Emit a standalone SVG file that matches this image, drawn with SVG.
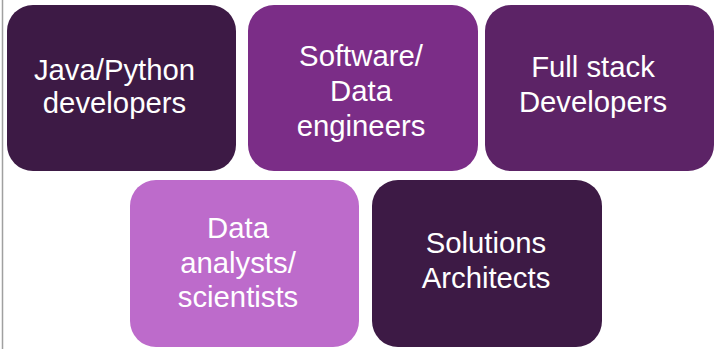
<svg xmlns="http://www.w3.org/2000/svg" width="714" height="349" viewBox="0 0 714 349">
<style>
.b{stroke:none}
.t{font-family:"Liberation Sans",Arial,sans-serif;font-size:29.3px;fill:#ffffff;text-anchor:middle}
</style>
<rect width="714" height="349" fill="#ffffff"/>
<line x1="2.5" y1="0" x2="2.5" y2="349" stroke="#a0a0a0" stroke-width="1.5"/>
<g id="connectors"></g>
<g id="n1"><rect class="b" x="7" y="5" width="229" height="166" rx="26" fill="#3d1a45"/>
<text class="t" x="114.5" y="80">Java/Python</text><text class="t" x="114.5" y="113">developers</text></g>
<g id="n2"><rect class="b" x="248" y="5" width="230" height="166" rx="26" fill="#7b2d87"/>
<text class="t" x="361" y="66">Software/</text><text class="t" x="361" y="101">Data</text><text class="t" x="361" y="136">engineers</text></g>
<g id="n3"><rect class="b" x="485" y="5" width="229" height="166" rx="26" fill="#5c2366"/>
<text class="t" x="593" y="77">Full stack</text><text class="t" x="593" y="112">Developers</text></g>
<g id="n4"><rect class="b" x="130" y="180" width="229" height="167" rx="26" fill="#bd6bcb"/>
<text class="t" x="238" y="238">Data</text><text class="t" x="238" y="273">analysts/</text><text class="t" x="238" y="307">scientists</text></g>
<g id="n5"><rect class="b" x="372" y="180" width="230" height="167" rx="26" fill="#3d1a45"/>
<text class="t" x="486" y="253">Solutions</text><text class="t" x="486" y="288">Architects</text></g>
</svg>
